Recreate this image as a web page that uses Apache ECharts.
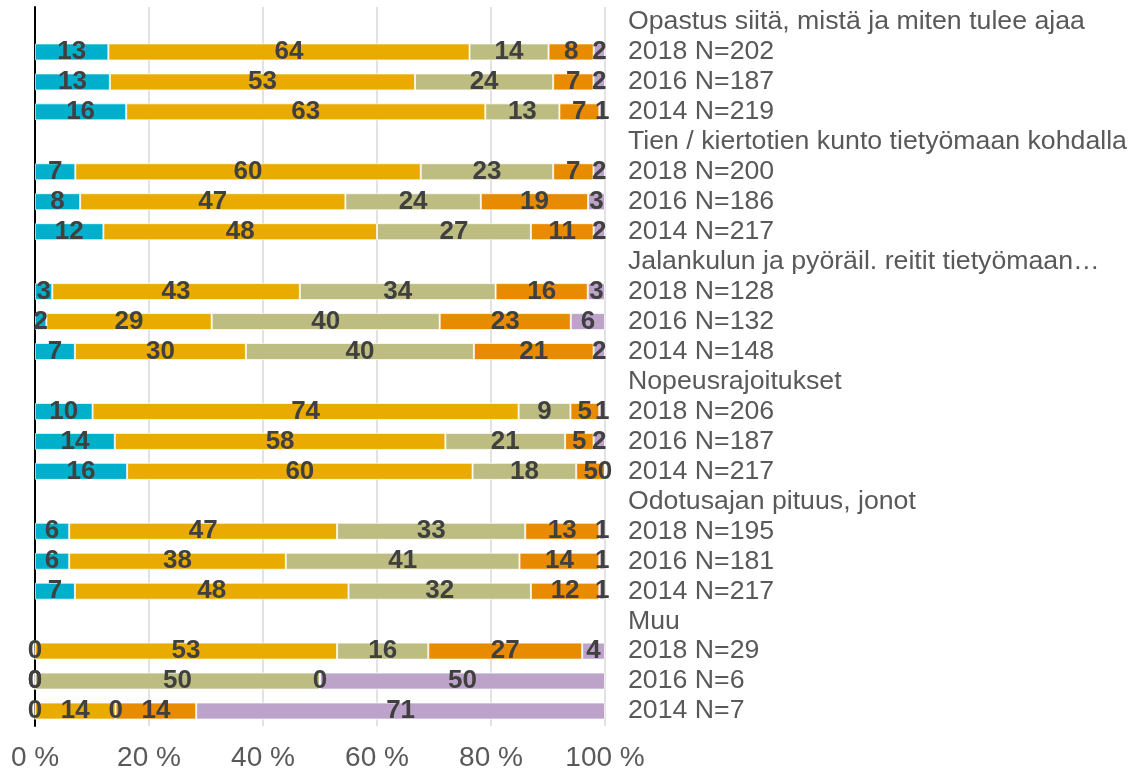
<!DOCTYPE html>
<html>
<head>
<meta charset="utf-8">
<title>Tyytyväisyys tietyömaiden järjestelyihin</title>
<script src="https://cdn.jsdelivr.net/npm/echarts@6/dist/echarts.min.js"></script>
<style>
  html, body { margin: 0; padding: 0; background: #ffffff; }
  #chart { width: 1130px; height: 772px; }
</style>
</head>
<body>
<div id="chart"></div>
<script>
// Question groups, each followed by its three survey years
const groups = [
  'Opastus siitä, mistä ja miten tulee ajaa',
  'Tien / kiertotien kunto tietyömaan kohdalla',
  'Jalankulun ja pyöräil. reitit tietyömaan…',
  'Nopeusrajoitukset',
  'Odotusajan pituus, jonot',
  'Muu'
];
const yearLabels = [
  ['2018 N=202', '2016 N=187', '2014 N=219'],
  ['2018 N=200', '2016 N=186', '2014 N=217'],
  ['2018 N=128', '2016 N=132', '2014 N=148'],
  ['2018 N=206', '2016 N=187', '2014 N=217'],
  ['2018 N=195', '2016 N=181', '2014 N=217'],
  ['2018 N=29', '2016 N=6', '2014 N=7']
];

// Answer shares (%), one value per year row, in the same order as above
const scaleNames = ['Erittäin tyytyväinen', 'Melko tyytyväinen', 'Ei tyytyväinen eikä tyytymätön', 'Melko tyytymätön', 'Erittäin tyytymätön'];
const veryGood  = [13, 13, 16,  7,  8, 12,  3,  2,  7, 10, 14, 16,  6,  6,  7,  0,  0,  0];
const fairGood  = [64, 53, 63, 60, 47, 48, 43, 29, 30, 74, 58, 60, 47, 38, 48, 53,  0, 14];
const neutral   = [14, 24, 13, 23, 24, 27, 34, 40, 40,  9, 21, 18, 33, 41, 32, 16, 50,  0];
const fairBad   = [ 8,  7,  7,  7, 19, 11, 16, 23, 21,  5,  5,  5, 13, 14, 12, 27,  0, 14];
const veryBad   = [ 2,  2,  1,  2,  3,  2,  3,  6,  2,  1,  2,  0,  1,  1,  1,  4, 50, 71];

const xTicks = [0, 20, 40, 60, 80, 100];

const seriesValues = [veryGood, fairGood, neutral, fairBad, veryBad];
const colors = ['#00AFCB', '#E9AB00', '#BEBD81', '#E98B00', '#BDA2CA'];

// Category axis: a heading row per group, then its year rows
const categories = [];
const rowIndex = [];   // index into the value arrays, or -1 for heading rows
groups.forEach(function (g, gi) {
  categories.push(g);
  rowIndex.push(-1);
  yearLabels[gi].forEach(function (y, yi) {
    categories.push(y);
    rowIndex.push(gi * 3 + yi);
  });
});

// Row totals, so every bar fills the 100 % width
const rowTotals = veryGood.map(function (_, i) {
  return seriesValues.reduce(function (s, arr) { return s + arr[i]; }, 0);
});

const series = seriesValues.map(function (vals, si) {
  return {
    name: scaleNames[si],
    type: 'bar',
    stack: 'share',
    barWidth: 17,
    clip: false,
    itemStyle: { color: colors[si], borderColor: 'rgba(255,255,255,0.7)', borderWidth: 1 },
    label: {
      show: true,
      position: 'inside',
      color: '#404040',
      fontFamily: '"Liberation Sans", Arial, sans-serif',
      fontWeight: 'bold',
      fontSize: 26,
      padding: [3, 0, 0, 0],
      textBorderWidth: 0,
      formatter: function (p) { return p.data.raw; }
    },
    emphasis: { disabled: true },
    data: rowIndex.map(function (ri) {
      if (ri < 0) return '-';
      return { value: vals[ri] / rowTotals[ri] * 100, raw: vals[ri] };
    })
  };
});

const chart = echarts.init(document.getElementById('chart'), null, { renderer: 'canvas' });
chart.setOption({
  backgroundColor: '#ffffff',
  animation: false,
  grid: { left: 35, right: 525, top: 7, height: 720, containLabel: false },
  xAxis: {
    type: 'value',
    min: xTicks[0],
    max: xTicks[xTicks.length - 1],
    interval: xTicks[1] - xTicks[0],
    axisLine: { show: false },
    axisTick: { show: false },
    splitLine: { show: true, lineStyle: { color: '#D9D9D9', width: 1.5 } },
    axisLabel: {
      formatter: '{value} %',
      color: '#595959',
      fontFamily: '"Liberation Sans", Arial, sans-serif',
      fontSize: 28,
      margin: 18
    }
  },
  yAxis: [
    {
      type: 'category',
      data: categories,
      inverse: true,
      position: 'right',
      axisLine: { show: false },
      axisTick: { show: false },
      axisLabel: {
        interval: 0,
        align: 'left',
        margin: 23,
        padding: [4, 0, 0, 0],
        color: '#595959',
        fontFamily: '"Liberation Sans", Arial, sans-serif',
        fontSize: 26.7
      }
    },
    {
      type: 'category',
      data: categories,
      inverse: true,
      position: 'left',
      axisLine: { show: true, lineStyle: { color: '#000000', width: 2 } },
      axisTick: { show: false },
      axisLabel: { show: false }
    }
  ],
  series: series
});
</script>
</body>
</html>
